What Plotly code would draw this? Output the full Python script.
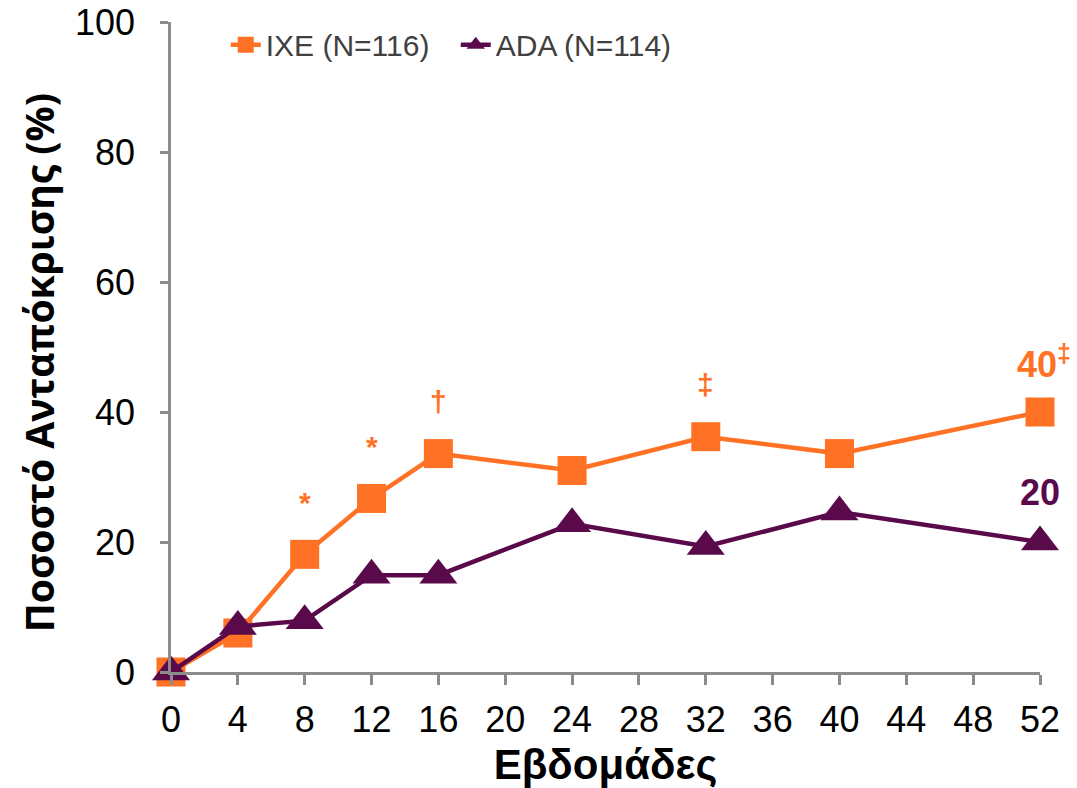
import plotly.graph_objects as go

# Response rate (%) by week for each treatment arm
weeks = [0, 4, 8, 12, 16, 24, 32, 40, 52]
ixe = [0, 6.0, 18.1, 26.7, 33.6, 31.0, 36.2, 33.6, 40]
ada = [0, 7.0, 7.9, 14.9, 14.9, 22.8, 19.3, 24.6, 20]
series_names = ["IXE (N=116)", "ADA (N=114)"]

x_ticks = list(range(0, 53, 4))
y_ticks = [0, 20, 40, 60, 80, 100]

# Significance markers above the IXE series
sig_weeks = [8, 12, 16, 32]
sig_marks = ["*", "*", "†", "‡"]

ORANGE = "#FF7124"
PURPLE = "#5A0A4B"
AXIS = "#8C8C8C"
FONT = "Liberation Sans, Arial, sans-serif"

fig = go.Figure()
fig.add_trace(go.Scatter(
    x=weeks, y=ixe, name=series_names[0], mode="lines+markers",
    line=dict(color=ORANGE, width=4.5),
    marker=dict(symbol="square", size=29, color=ORANGE),
    cliponaxis=False,
))
fig.add_trace(go.Scatter(
    x=weeks, y=ada, name=series_names[1], mode="lines+markers",
    line=dict(color=PURPLE, width=4.5),
    marker=dict(symbol="triangle-up", size=33, color=PURPLE),
    cliponaxis=False,
))

ixe_by_week = dict(zip(weeks, ixe))
for wk, mk in zip(sig_weeks, sig_marks):
    fig.add_annotation(
        x=wk, y=ixe_by_week[wk], text=f"<b>{mk}</b>", showarrow=False,
        yshift=52, font=dict(family=FONT, size=30, color=ORANGE),
    )

fig.add_annotation(
    x=weeks[-1], y=ixe[-1], text=f"<b>{ixe[-1]:.0f}<sup>‡</sup></b>", showarrow=False,
    xshift=4, yshift=50, font=dict(family=FONT, size=36, color=ORANGE),
)
fig.add_annotation(
    x=weeks[-1], y=ada[-1], text=f"<b>{ada[-1]:.0f}</b>", showarrow=False,
    xshift=0, yshift=50, font=dict(family=FONT, size=36, color=PURPLE),
)

# Vertical y-axis title
fig.add_annotation(
    xref="paper", yref="paper", x=-0.153, y=0.475,
    text="<b>Ποσοστό Ανταπόκρισης (%)</b>", textangle=-90, showarrow=False,
    xanchor="center", yanchor="middle",
    font=dict(family="Open Sans, sans-serif", size=39, color="black"),
)

fig.update_layout(
    width=1077, height=788,
    margin=dict(l=171, r=37, t=22, b=116, autoexpand=False),
    paper_bgcolor="white", plot_bgcolor="white",
    font=dict(family=FONT, color="black"),
    showlegend=True,
    legend=dict(
        orientation="h", x=0.063, y=0.965, xanchor="left", yanchor="middle",
        font=dict(family=FONT, size=30, color="#404040"),
        entrywidth=185, entrywidthmode="pixels",
        bgcolor="rgba(0,0,0,0)",
    ),
    xaxis=dict(
        range=[0, 52], tickvals=x_ticks, ticktext=[str(t) for t in x_ticks],
        showline=True, linecolor=AXIS, linewidth=2.5,
        ticks="outside", ticklen=10, tickwidth=2.5, tickcolor=AXIS,
        showgrid=False, zeroline=False,
        tickfont=dict(family=FONT, size=36, color="black"),
        ticklabelstandoff=4,
        title=dict(text="<b>Εβδομάδες</b>", font=dict(family=FONT, size=42, color="black"),
                   standoff=14),
    ),
    yaxis=dict(
        range=[0, 100], tickvals=y_ticks, ticktext=[str(t) for t in y_ticks],
        showline=True, linecolor=AXIS, linewidth=2.5,
        ticks="outside", ticklen=8, tickwidth=2.5, tickcolor=AXIS,
        showgrid=False, zeroline=False,
        tickfont=dict(family=FONT, size=36, color="black"),
        ticklabelstandoff=18,
    ),
)

fig.write_html("out.html")
